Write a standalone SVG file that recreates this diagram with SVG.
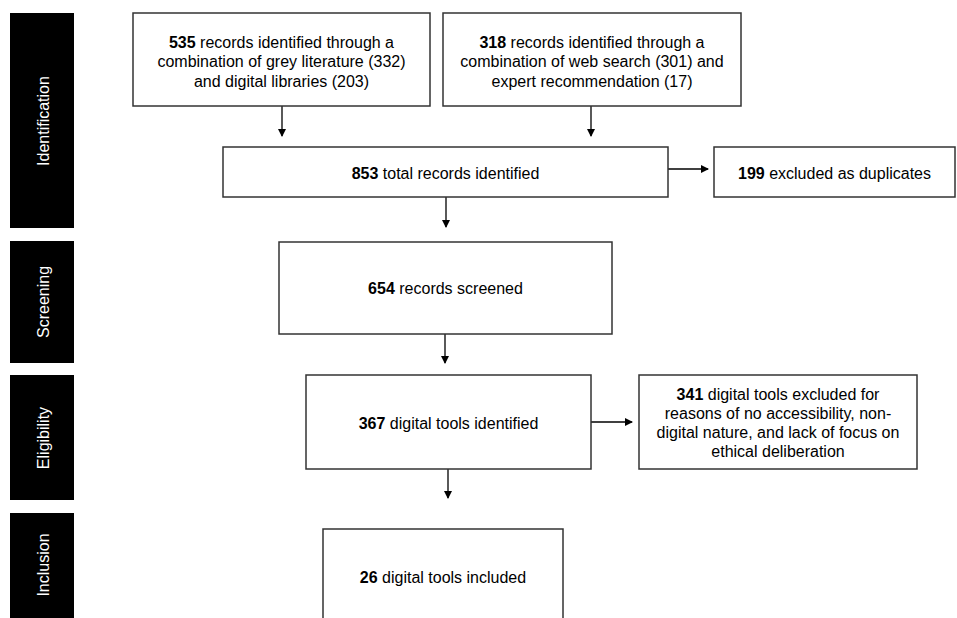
<svg xmlns="http://www.w3.org/2000/svg" width="957" height="618" viewBox="0 0 957 618">
<style>
.side{fill:#000}
.sidet{fill:#fff;font-family:"Liberation Sans",Arial,sans-serif;font-size:16px;text-anchor:middle;dominant-baseline:central}
.box{fill:#fff;stroke:#333;stroke-width:1.5}
.t{fill:#000;font-family:"Liberation Sans",Arial,sans-serif;font-size:16px;text-anchor:middle}
.c{fill:none;stroke:#000;stroke-width:1.3}
</style>
<defs>
<marker id="ah" markerWidth="8" markerHeight="8" refX="7" refY="4" orient="auto" markerUnits="userSpaceOnUse">
<path d="M0,0 L8,4 L0,8 Z" fill="#000"/>
</marker>
</defs>
<rect width="957" height="618" fill="#fff"/>
<g id="phase-identification"><rect class="side" x="10" y="13" width="64" height="215"/><text class="sidet" transform="translate(43,121) rotate(-90)">Identification</text></g>
<g id="phase-screening"><rect class="side" x="10" y="241" width="64" height="122"/><text class="sidet" transform="translate(43,302) rotate(-90)">Screening</text></g>
<g id="phase-eligibility"><rect class="side" x="10" y="375" width="64" height="125"/><text class="sidet" transform="translate(43,438) rotate(-90)">Eligibility</text></g>
<g id="phase-inclusion"><rect class="side" x="10" y="513" width="64" height="110"/><text class="sidet" transform="translate(43,565) rotate(-90)">Inclusion</text></g>

<g id="connectors">
<path class="c" d="M282,106 V136" marker-end="url(#ah)"/>
<path class="c" d="M591,106 V136" marker-end="url(#ah)"/>
<path class="c" d="M668,169 H708" marker-end="url(#ah)"/>
<path class="c" d="M446,197 V227" marker-end="url(#ah)"/>
<path class="c" d="M445,334 V363" marker-end="url(#ah)"/>
<path class="c" d="M591,422 H632" marker-end="url(#ah)"/>
<path class="c" d="M448,469 V498" marker-end="url(#ah)"/>
</g>

<g id="n535"><rect class="box" x="133" y="13" width="297" height="93"/>
<text class="t" x="281.5" y="47.5"><tspan font-weight="bold">535</tspan> records identified through a</text>
<text class="t" x="281.5" y="67">combination of grey literature (332)</text>
<text class="t" x="281.5" y="86.5">and digital libraries (203)</text></g>
<g id="n318"><rect class="box" x="443" y="13" width="298" height="93"/>
<text class="t" x="592" y="47.5"><tspan font-weight="bold">318</tspan> records identified through a</text>
<text class="t" x="592" y="67">combination of web search (301) and</text>
<text class="t" x="592" y="86.5">expert recommendation (17)</text></g>
<g id="n853"><rect class="box" x="223" y="147" width="445" height="50"/>
<text class="t" x="445.5" y="178.5"><tspan font-weight="bold">853</tspan> total records identified</text></g>
<g id="n199"><rect class="box" x="714" y="147" width="241" height="50"/>
<text class="t" x="834.5" y="178.5"><tspan font-weight="bold">199</tspan> excluded as duplicates</text></g>
<g id="n654"><rect class="box" x="279" y="242" width="333" height="92"/>
<text class="t" x="445.5" y="293.5"><tspan font-weight="bold">654</tspan> records screened</text></g>
<g id="n367"><rect class="box" x="306" y="375" width="285" height="94"/>
<text class="t" x="448.5" y="428.5"><tspan font-weight="bold">367</tspan> digital tools identified</text></g>
<g id="n341"><rect class="box" x="639" y="375" width="278" height="94"/>
<text class="t" x="778" y="399.5"><tspan font-weight="bold">341</tspan> digital tools excluded for</text>
<text class="t" x="778" y="418.5">reasons of no accessibility, non-</text>
<text class="t" x="778" y="437.5">digital nature, and lack of focus on</text>
<text class="t" x="778" y="457">ethical deliberation</text></g>
<g id="n26"><rect class="box" x="323" y="529" width="240" height="100"/>
<text class="t" x="443" y="582.5"><tspan font-weight="bold">26</tspan> digital tools included</text></g>
</svg>
